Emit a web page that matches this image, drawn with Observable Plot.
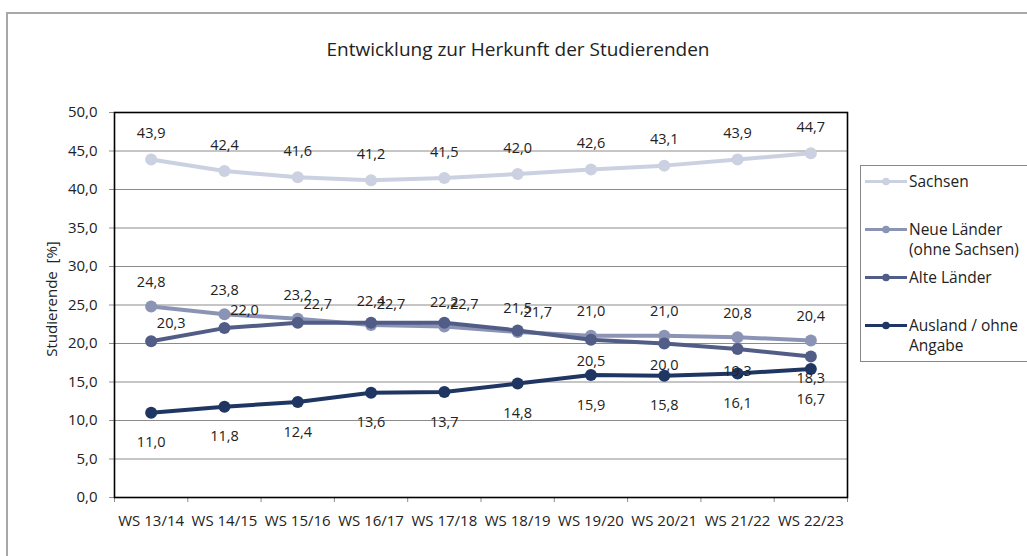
<!DOCTYPE html>
<html>
<head>
<meta charset="utf-8">
<script src="https://cdn.jsdelivr.net/npm/d3@7"></script>
<script src="https://cdn.jsdelivr.net/npm/@observablehq/plot@0.6"></script>
<style>
  html, body { margin: 0; padding: 0; background: #fff; }
  #wrap { position: relative; width: 1027px; height: 556px; overflow: hidden; font-family: "Open Sans", "Noto Sans", sans-serif; color: #222; }
  #outer { position: absolute; left: 6px; top: 12px; width: 1100px; height: 600px; border: 2px solid #a8a8a8; box-sizing: border-box; }
  #title { position: absolute; left: 0; width: 1036px; top: 37px; text-align: center; font-size: 19px; line-height: 24px; }
  #chart { position: absolute; left: 0; top: 0; }
  #legend { position: absolute; left: 860px; top: 165px; width: 200px; height: 197px; border: 1px solid #888; box-sizing: border-box; padding-top: 6px; }
  .item { position: relative; height: 48px; font-size: 15.5px; line-height: 19.5px; }
  .item svg { position: absolute; left: 4px; top: 0; }
  .item span { position: absolute; left: 48px; top: 0; white-space: nowrap; }
</style>
</head>
<body>
<div id="wrap">
  <div id="outer"></div>
  <div id="chart"></div>
  <div id="title">Entwicklung zur Herkunft der Studierenden</div>
  <div id="legend"></div>
</div>
<script>
const categories = ["WS 13/14", "WS 14/15", "WS 15/16", "WS 16/17", "WS 17/18", "WS 18/19", "WS 19/20", "WS 20/21", "WS 21/22", "WS 22/23"];
const sachsen     = [43.9, 42.4, 41.6, 41.2, 41.5, 42.0, 42.6, 43.1, 43.9, 44.7];
const neueLaender = [24.8, 23.8, 23.2, 22.4, 22.2, 21.5, 21.0, 21.0, 20.8, 20.4];
const alteLaender = [20.3, 22.0, 22.7, 22.7, 22.7, 21.7, 20.5, 20.0, 19.3, 18.3];
const ausland     = [11.0, 11.8, 12.4, 13.6, 13.7, 14.8, 15.9, 15.8, 16.1, 16.7];
const seriesNames = ["Sachsen", "Neue Länder (ohne Sachsen)", "Alte Länder", "Ausland / ohne Angabe"];
const legendLines = [["Sachsen"], ["Neue Länder", "(ohne Sachsen)"], ["Alte Länder"], ["Ausland / ohne", "Angabe"]];
const seriesColors = ["#cbd1e1", "#8b94b5", "#515d87", "#1f3663"];
const yTicks = [0, 5, 10, 15, 20, 25, 30, 35, 40, 45, 50];
const yLabel = "Studierende\u00a0 [%]";

const allSeries = [sachsen, neueLaender, alteLaender, ausland];
const rows = allSeries.flatMap((vals, s) => vals.map((v, i) => ({name: seriesNames[s], s, i, cat: categories[i], v})));
const fmt = v => v.toFixed(1).replace(".", ",");
const bySeries = s => rows.filter(d => d.s === s);

const boundaries = categories.map((_, i) => i - 0.5).concat(categories.length - 0.5);
const centers = categories.map((_, i) => i);

const marks = [
  Plot.gridY(yTicks, {stroke: "#8c8c8c", strokeOpacity: 1, strokeWidth: 1}),
  Plot.axisY({ticks: yTicks, tickSize: 5, tickPadding: 12, tickFormat: fmt, fontSize: 15, stroke: "#8c8c8c", fill: "#222", label: null}),
  Plot.axisX({ticks: boundaries, tickSize: 5, tickFormat: () => "", stroke: "#8c8c8c", label: null}),
  Plot.axisX({ticks: centers, tickSize: 0, tickPadding: 18, tickFormat: i => categories[i], fontSize: 15, fill: "#222", label: null}),
  Plot.frame({stroke: "#000", strokeWidth: 1.6}),
  Plot.text([yLabel], {frameAnchor: "left", dx: -62, dy: -6, rotate: -90, textAnchor: "middle", fontSize: 15, fill: "#222"})
];

allSeries.forEach((_, s) => {
  marks.push(Plot.line(bySeries(s), {x: "i", y: "v", stroke: seriesColors[s], strokeWidth: 4, curve: "linear"}));
  marks.push(Plot.dot(bySeries(s), {x: "i", y: "v", fill: seriesColors[s], r: 6}));
});

const txt = (data, opts) => Plot.text(data, {x: "i", y: "v", text: d => fmt(d.v), fontSize: 14.5, fill: "#222", ...opts});
marks.push(txt(bySeries(0), {dy: -26}));
marks.push(txt(bySeries(1), {dy: -24}));
marks.push(txt(bySeries(2).filter(d => d.i < 6), {dx: 20, dy: -18}));
marks.push(txt(bySeries(2).filter(d => d.i >= 6), {dy: 22}));
marks.push(txt(bySeries(3), {dy: 30}));

const chart = Plot.plot({
  width: 1027,
  height: 556,
  marginLeft: 114,
  marginRight: 180,
  marginTop: 112,
  marginBottom: 59,
  style: {fontFamily: "'Open Sans', 'Noto Sans', sans-serif", fontSize: "14px", background: "transparent", color: "#222"},
  x: {type: "linear", domain: [-0.5, categories.length - 0.5]},
  y: {domain: [0, 50]},
  marks
});
document.getElementById("chart").appendChild(chart);

const legend = document.getElementById("legend");
seriesNames.forEach((name, s) => {
  const item = document.createElement("div");
  item.className = "item";
  item.innerHTML = `<svg width="42" height="19"><line x1="0" x2="42" y1="9.5" y2="9.5" stroke="${seriesColors[s]}" stroke-width="3"/><circle cx="21" cy="9.5" r="3.8" fill="${seriesColors[s]}"/></svg><span>${legendLines[s].join("<br>")}</span>`;
  legend.appendChild(item);
});
</script>
</body>
</html>
